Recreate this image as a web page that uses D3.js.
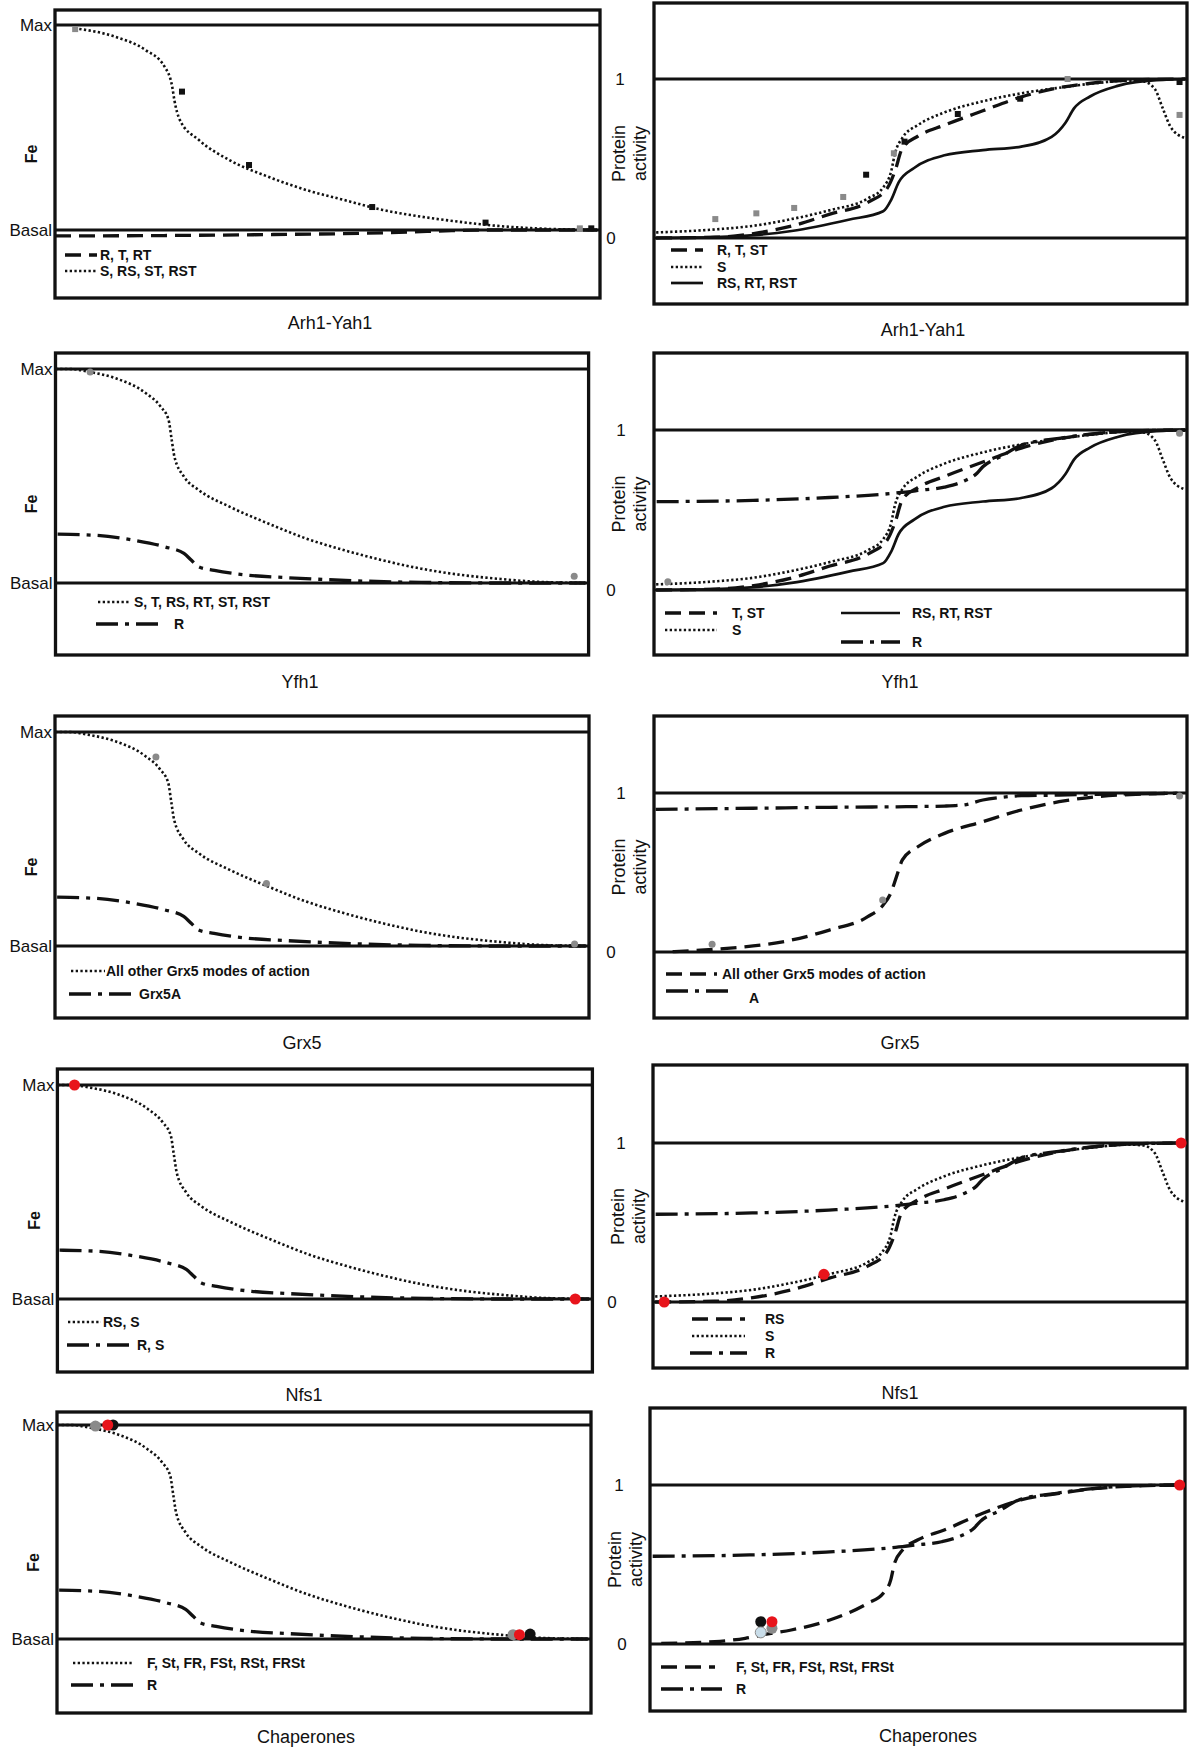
<!DOCTYPE html>
<html><head><meta charset="utf-8">
<script src="https://cdn.jsdelivr.net/npm/d3@7"></script>
<style>
body{margin:0;background:#fff}
svg{display:block}
text{font-family:"Liberation Sans",Arial,sans-serif;fill:#111}
</style>
</head><body>
<svg id="c" width="1200" height="1751"></svg>
<script>
// ---------- DATA (x: 0-100 along the gene-level axis, y: 0 = Basal/0, 1 = Max/1) ----------
const TITLES = ["Arh1-Yah1", "Yfh1", "Grx5", "Nfs1", "Chaperones"];
const FE_TICKS = ["Basal", "Max"];
const ACT_TICKS = ["0", "1"];

// Fe panels
const FE_DOTTED_ARH = [[3.6,0.984],[11,0.943],[16.6,0.878],[20.1,0.797],[21.5,0.70],[21.9,0.634],[22.9,0.537],[26.4,0.439],[32,0.341],[39.1,0.26],[46.1,0.195],[53.1,0.146],[60.1,0.098],[67.2,0.065],[74.2,0.04],[81.2,0.02],[88.2,0.008],[99.4,0]];
const FE_DASHED_ARH = [[0,-0.029],[20,-0.027],[40,-0.022],[56.6,-0.016],[65,-0.01],[72.8,-0.003],[80,0],[99.5,0]];
const FE_DOTTED = [[0,1.0],[2.5,1.0],[6.5,0.986],[11.1,0.958],[16.9,0.888],[19.7,0.825],[21.2,0.763],[21.8,0.669],[22.3,0.591],[24.1,0.497],[26.9,0.434],[32.7,0.356],[39.9,0.278],[47,0.208],[54.2,0.153],[61.4,0.106],[68.6,0.067],[75.7,0.039],[82.9,0.02],[90.1,0.006],[99.5,0]];
const FE_DASHDOT = [[0.4,0.228],[7.5,0.223],[14.7,0.2],[20.5,0.169],[24.1,0.138],[25.5,0.106],[26.9,0.075],[29.8,0.059],[36.3,0.036],[43.4,0.025],[50.6,0.016],[57.8,0.009],[68.6,0.003],[82.9,0],[99.4,0]];

// Protein activity panels
const ACT_DOTTED = [[0.4,0.035],[11.5,0.054],[18.7,0.077],[25.8,0.119],[33,0.175],[40.2,0.25],[43,0.318],[44.5,0.42],[45.2,0.53],[46.6,0.63],[49.5,0.71],[54.5,0.79],[61.7,0.86],[68.9,0.91],[76,0.945],[83.2,0.975],[89,0.99],[91.8,0.985],[94,0.935],[95.4,0.82],[96.9,0.70],[99.5,0.63]];
const ACT_DASHED = [[0.4,0],[11.5,0.005],[18.7,0.028],[25.8,0.075],[33,0.15],[40.2,0.226],[43.8,0.315],[45.2,0.42],[46.6,0.565],[49.5,0.64],[54.5,0.71],[61.7,0.80],[68.9,0.887],[76,0.945],[83.2,0.978],[90.4,0.995],[99.7,1.0]];
const ACT_SOLID = [[0.4,0],[11.5,0.005],[25.8,0.044],[36.5,0.115],[43,0.168],[44.5,0.24],[45.9,0.35],[48.8,0.44],[54.5,0.52],[61.7,0.553],[68.9,0.575],[74.6,0.636],[77.2,0.725],[78.8,0.815],[81.8,0.89],[86.8,0.955],[90.4,0.98],[99.7,1.0]];
const ACT_DASHDOT = [[0.5,0.552],[18.6,0.56],[32.9,0.578],[45.9,0.608],[49.5,0.622],[54.5,0.643],[58.1,0.68],[60.6,0.73],[61.7,0.77],[65.3,0.838],[68.9,0.905],[76,0.948],[83.2,0.979],[90.4,0.995],[99.7,1.0]];
const ACT_DASHED_GRX = [[3.5,0.002],[11.4,0.017],[18.6,0.038],[25.8,0.075],[32.9,0.138],[40.1,0.222],[43,0.296],[44.4,0.369],[45.5,0.474],[46.6,0.579],[49.5,0.662],[54.5,0.746],[61.7,0.82],[68.9,0.893],[76,0.945],[83.2,0.977],[90.4,0.992],[98.2,0.998]];
const ACT_DASHDOT_GRX = [[0.3,0.897],[18.6,0.904],[32.9,0.91],[47.3,0.914],[54.5,0.918],[58.1,0.925],[61.7,0.956],[65.3,0.973],[68.9,0.983],[76,0.987],[83.2,0.992],[98.2,0.998]];
const ACT_DASHED_CHA = [[2.1,0.004],[12.1,0.015],[17.8,0.036],[21.4,0.06],[26.4,0.088],[33.6,0.151],[40.7,0.256],[43.6,0.319],[45,0.403],[45.7,0.507],[47.2,0.591],[50,0.654],[55,0.717],[62.2,0.822],[69.3,0.906],[76.5,0.948],[83.6,0.979],[90.8,0.994],[98.7,1.0]];

// Data points
const ARH_FE_GRAY = [[3.7,0.98],[96.3,0.008]];
const ARH_FE_BLACK = [[23.3,0.675],[35.6,0.317],[58.2,0.112],[79,0.036],[98.4,0.008]];
const ARH_ACT_GRAY = [[11.5,0.119],[19.2,0.155],[26.3,0.189],[35.5,0.258],[45,0.533],[77.6,1.0],[98.6,0.774]];
const ARH_ACT_BLACK = [[39.8,0.398],[47,0.606],[57,0.78],[68.7,0.876],[98.6,0.981]];
const YFH_FE_GRAY = [[6.5,0.986],[97.3,0.031]];
const YFH_ACT_GRAY = [[2.6,0.052],[98.6,0.979]];
const GRX_FE_GRAY = [[18.9,0.883],[39.6,0.292],[97.3,0.009]];
const GRX_ACT_GRAY = [[10.9,0.048],[42.9,0.327],[98.6,0.981]];
const NFS_FE_RED = [[3.2,1.0],[96.8,0]];
const NFS_ACT_RED = [[2.1,0],[32,0.174],[98.9,1.0]];
const CHA_FE_BLACK = [[10.5,1.0],[88.6,0.023]];
const CHA_FE_GRAY = [[7.2,0.995],[85.4,0.02]];
const CHA_FE_RED = [[9.5,1.0],[86.6,0.02]];
const CHA_ACT_GRAY = [[22.8,0.099]];
const CHA_ACT_BLACK = [[20.7,0.14]];
const CHA_ACT_RED = [[22.8,0.14],[99,1.0]];
const CHA_ACT_BLUE = [[20.7,0.073]];

// Legend labels
const LEG_ARH_FE = ["R, T, RT", "S, RS, ST, RST"];
const LEG_ARH_ACT = ["R, T, ST", "S", "RS, RT, RST"];
const LEG_YFH_FE = ["S, T, RS, RT, ST, RST", "R"];
const LEG_YFH_ACT = ["T, ST", "S", "RS, RT, RST", "R"];
const LEG_GRX_FE = ["All other Grx5 modes of action", "Grx5A"];
const LEG_GRX_ACT = ["All other Grx5 modes of action", "A"];
const LEG_NFS_FE = ["RS, S", "R, S"];
const LEG_NFS_ACT = ["RS", "S", "R"];
const LEG_CHA_FE = ["F, St, FR, FSt, RSt, FRSt", "R"];
const LEG_CHA_ACT = ["F, St, FR, FSt, RSt, FRSt", "R"];

// ---------- STYLES & LAYOUT ----------
const STY = {
  dotted:  {w: 2.6, dash: "2.3,2.4"},
  dashed:  {w: 3.3, dash: "16,8"},
  solid:   {w: 2.7, dash: null},
  dashdot: {w: 3.3, dash: "22,7,4,7"}
};
const COL = {gray: "#8a8a8a", black: "#111", red: "#e8141b", blue: "#c9dde9"};

const PANELS = [
  {kind:"fe", frame:[55,10,600,298], y0:230, y1:25, title:TITLES[0], tx:330, ty:323, labX:31,
   curves:[{d:FE_DASHED_ARH,s:"dashed"},{d:FE_DOTTED_ARH,s:"dotted"}],
   marks:[{d:ARH_FE_GRAY,c:"gray",sq:6},{d:ARH_FE_BLACK,c:"black",sq:6}],
   legend:[{s:"dashed",x1:65,x2:97,y:255,tx:100,t:LEG_ARH_FE[0]},{s:"dotted",x1:65,x2:97,y:271,tx:100,t:LEG_ARH_FE[1]}]},
  {kind:"act", frame:[654,3,1187,304], y0:238, y1:79, title:TITLES[0], tx:923, ty:330, one:620, zero:611,
   curves:[{d:ACT_DASHED,s:"dashed"},{d:ACT_DOTTED,s:"dotted"},{d:ACT_SOLID,s:"solid"}],
   marks:[{d:ARH_ACT_GRAY,c:"gray",sq:6},{d:ARH_ACT_BLACK,c:"black",sq:6}],
   legend:[{s:"dashed",x1:671,x2:703,y:250,tx:717,t:LEG_ARH_ACT[0]},{s:"dotted",x1:671,x2:703,y:267,tx:717,t:LEG_ARH_ACT[1]},{s:"solid",x1:671,x2:703,y:283,tx:717,t:LEG_ARH_ACT[2]}]},

  {kind:"fe", frame:[55.5,353,588.6,655], y0:583, y1:369, title:TITLES[1], tx:300, ty:682, labX:31,
   curves:[{d:FE_DASHDOT,s:"dashdot"},{d:FE_DOTTED,s:"dotted"}],
   marks:[{d:YFH_FE_GRAY,c:"gray",r:3.5}],
   legend:[{s:"dotted",x1:98,x2:130,y:602,tx:134,t:LEG_YFH_FE[0]},{s:"dashdot",x1:96,x2:160,y:624,tx:174,t:LEG_YFH_FE[1]}]},
  {kind:"act", frame:[654,353,1187,655], y0:590, y1:430, title:TITLES[1], tx:900, ty:682, one:621, zero:611,
   curves:[{d:ACT_DASHDOT,s:"dashdot"},{d:ACT_DASHED,s:"dashed"},{d:ACT_DOTTED,s:"dotted"},{d:ACT_SOLID,s:"solid"}],
   marks:[{d:YFH_ACT_GRAY,c:"gray",r:3.5}],
   legend:[{s:"dashed",x1:665,x2:717,y:613,tx:732,t:LEG_YFH_ACT[0]},{s:"dotted",x1:665,x2:717,y:630,tx:732,t:LEG_YFH_ACT[1]},
           {s:"solid",x1:841,x2:900,y:613,tx:912,t:LEG_YFH_ACT[2]},{s:"dashdot",x1:841,x2:900,y:642,tx:912,t:LEG_YFH_ACT[3]}]},

  {kind:"fe", frame:[55,716,589,1018], y0:946, y1:732, title:TITLES[2], tx:302, ty:1043, labX:31,
   curves:[{d:FE_DASHDOT,s:"dashdot"},{d:FE_DOTTED,s:"dotted"}],
   marks:[{d:GRX_FE_GRAY,c:"gray",r:3.5}],
   legend:[{s:"dotted",x1:71,x2:105,y:971,tx:106,t:LEG_GRX_FE[0]},{s:"dashdot",x1:69,x2:132,y:994,tx:139,t:LEG_GRX_FE[1]}]},
  {kind:"act", frame:[654,716,1187,1018], y0:952, y1:793, title:TITLES[2], tx:900, ty:1043, one:621, zero:611,
   curves:[{d:ACT_DASHDOT_GRX,s:"dashdot"},{d:ACT_DASHED_GRX,s:"dashed"}],
   marks:[{d:GRX_ACT_GRAY,c:"gray",r:3.5}],
   legend:[{s:"dashed",x1:666,x2:717,y:974,tx:722,t:LEG_GRX_ACT[0]},{s:"dashdot",x1:666,x2:728,y:991,tx:749,ty:998,t:LEG_GRX_ACT[1]}]},

  {kind:"fe", frame:[57.4,1069,592.4,1372], y0:1299, y1:1085, title:TITLES[3], tx:304, ty:1395, labX:34,
   curves:[{d:FE_DASHDOT,s:"dashdot"},{d:FE_DOTTED,s:"dotted"}],
   marks:[{d:NFS_FE_RED,c:"red",r:5.5}],
   legend:[{s:"dotted",x1:68,x2:101,y:1322,tx:103,t:LEG_NFS_FE[0]},{s:"dashdot",x1:67,x2:130,y:1345,tx:137,t:LEG_NFS_FE[1]}]},
  {kind:"act", frame:[653,1065,1187,1368], y0:1302, y1:1143, title:TITLES[3], tx:900, ty:1393, one:621, zero:612,
   curves:[{d:ACT_DASHDOT,s:"dashdot"},{d:ACT_DASHED,s:"dashed"},{d:ACT_DOTTED,s:"dotted"}],
   marks:[{d:NFS_ACT_RED,c:"red",r:5.5}],
   legend:[{s:"dashed",x1:692,x2:745,y:1319,tx:765,t:LEG_NFS_ACT[0]},{s:"dotted",x1:692,x2:745,y:1336,tx:765,t:LEG_NFS_ACT[1]},{s:"dashdot",x1:690,x2:747,y:1353,tx:765,t:LEG_NFS_ACT[2]}]},

  {kind:"fe", frame:[57,1412,591,1713], y0:1639, y1:1425, title:TITLES[4], tx:306, ty:1737, labX:33,
   curves:[{d:FE_DASHDOT,s:"dashdot"},{d:FE_DOTTED,s:"dotted"}],
   marks:[{d:CHA_FE_BLACK,c:"black",r:5.5},{d:CHA_FE_GRAY,c:"gray",r:5.5},{d:CHA_FE_RED,c:"red",r:5.5}],
   legend:[{s:"dotted",x1:73,x2:132,y:1663,tx:147,t:LEG_CHA_FE[0]},{s:"dashdot",x1:71,x2:134,y:1685,tx:147,t:LEG_CHA_FE[1]}]},
  {kind:"act", frame:[650,1408,1185,1711], y0:1644, y1:1485, title:TITLES[4], tx:928, ty:1736, one:619, zero:622,
   curves:[{d:ACT_DASHDOT,s:"dashdot"},{d:ACT_DASHED_CHA,s:"dashed"}],
   marks:[{d:CHA_ACT_GRAY,c:"gray",r:5.5},{d:CHA_ACT_BLACK,c:"black",r:5.5},{d:CHA_ACT_RED,c:"red",r:5.5},{d:CHA_ACT_BLUE,c:"blue",r:5.5,stroke:"#8a8a8a"}],
   legend:[{s:"dashed",x1:661,x2:715,y:1667,tx:736,t:LEG_CHA_ACT[0]},{s:"dashdot",x1:661,x2:722,y:1689,tx:736,t:LEG_CHA_ACT[1]}]}
];

// ---------- DRAW ----------
const svg = d3.select("#c");
const defs = svg.append("defs");

function styled(sel, s) {
  const st = STY[s];
  sel.attr("fill", "none").attr("stroke", "#111").attr("stroke-width", st.w);
  if (st.dash) sel.attr("stroke-dasharray", st.dash);
  return sel;
}

PANELS.forEach((p, i) => {
  const [L, T, R, B] = p.frame;
  const xs = d3.scaleLinear().domain([0, 100]).range([L, R]);
  const ys = d3.scaleLinear().domain([0, 1]).range([p.y0, p.y1]);
  const g = svg.append("g");

  defs.append("clipPath").attr("id", "clip" + i)
    .append("rect").attr("x", L).attr("y", T).attr("width", R - L).attr("height", B - T);

  // frame
  g.append("rect").attr("x", L).attr("y", T).attr("width", R - L).attr("height", B - T)
    .attr("fill", "none").attr("stroke", "#111").attr("stroke-width", 3.3);

  // reference lines (Basal/Max or 0/1)
  g.selectAll(".ref").data([0, 1]).join("line")
    .attr("x1", L).attr("x2", R).attr("y1", d => ys(d)).attr("y2", d => ys(d))
    .attr("stroke", "#111").attr("stroke-width", 2.8);

  // curves
  const cg = g.append("g").attr("clip-path", `url(#clip${i})`);
  const line = d3.line().x(d => xs(d[0])).y(d => ys(d[1])).curve(d3.curveMonotoneX);
  p.curves.forEach(c => styled(cg.append("path").attr("d", line(c.d)), c.s));

  // markers
  p.marks.forEach(m => {
    if (m.sq) {
      g.selectAll(null).data(m.d).join("rect")
        .attr("x", d => xs(d[0]) - m.sq / 2).attr("y", d => ys(d[1]) - m.sq / 2)
        .attr("width", m.sq).attr("height", m.sq).attr("fill", COL[m.c]);
    } else {
      g.selectAll(null).data(m.d).join("circle")
        .attr("cx", d => xs(d[0])).attr("cy", d => ys(d[1])).attr("r", m.r)
        .attr("fill", COL[m.c]).attr("stroke", m.stroke || "none").attr("stroke-width", 1);
    }
  });

  // axis tick labels through a d3 axis
  const ticks = p.kind === "fe" ? FE_TICKS : ACT_TICKS;
  const ax = g.append("g").attr("transform", `translate(${L},0)`)
    .call(d3.axisLeft(ys).tickValues([0, 1]).tickFormat(d => ticks[d]).tickSize(0).tickPadding(3));
  ax.select(".domain").remove();
  ax.selectAll("text").attr("font-family", '"Liberation Sans",Arial,sans-serif')
    .attr("font-size", 17).attr("fill", "#111");
  if (p.kind === "act") {
    ax.selectAll(".tick text").attr("text-anchor", "middle")
      .attr("x", d => (d === 1 ? p.one : p.zero) - L);
  }

  // axis titles
  const cy = (T + B) / 2;
  if (p.kind === "fe") {
    g.append("text").attr("transform", `translate(${p.labX},${cy}) rotate(-90)`)
      .attr("text-anchor", "middle").attr("dy", "0.35em")
      .attr("font-size", 16).attr("font-weight", "bold").text("Fe");
  } else {
    g.append("text").attr("transform", `translate(${L - 35},${cy}) rotate(-90)`)
      .attr("text-anchor", "middle").attr("dy", "0.35em").attr("font-size", 18).text("Protein");
    g.append("text").attr("transform", `translate(${L - 14},${cy}) rotate(-90)`)
      .attr("text-anchor", "middle").attr("dy", "0.35em").attr("font-size", 18).text("activity");
  }

  // legend
  p.legend.forEach(e => {
    styled(g.append("line").attr("x1", e.x1).attr("x2", e.x2).attr("y1", e.y).attr("y2", e.y), e.s);
    g.append("text").attr("x", e.tx).attr("y", e.ty || e.y).attr("dy", "0.36em")
      .attr("font-size", 14).attr("font-weight", "bold").text(e.t);
  });

  // panel title
  g.append("text").attr("x", p.tx).attr("y", p.ty).attr("dy", "0.35em")
    .attr("text-anchor", "middle").attr("font-size", 18).text(p.title);
});
</script>
</body></html>
